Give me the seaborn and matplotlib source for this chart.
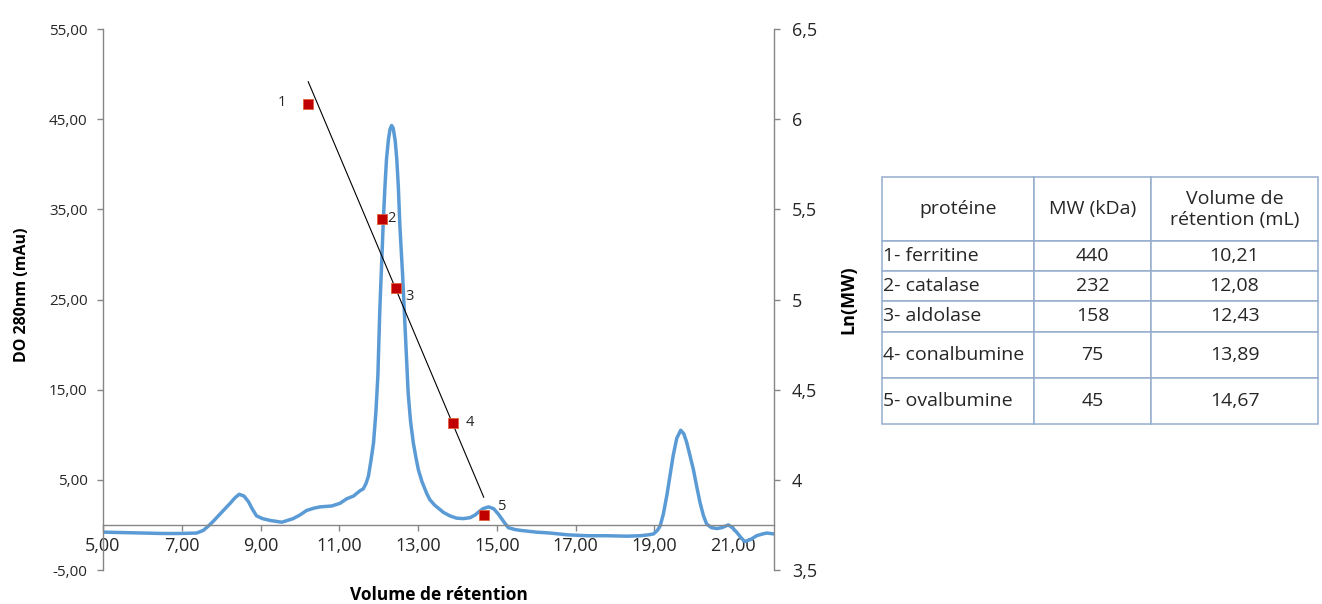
import numpy as np
import pandas as pd
import matplotlib
matplotlib.use("Agg")
import matplotlib.pyplot as plt
import seaborn as sns

# ---------------- data ----------------
volume = [5.0, 5.5, 6.0, 6.5, 6.96, 7.38, 7.55, 7.67, 7.8, 7.97, 8.1, 8.23, 8.35, 8.46,
          8.58, 8.69, 8.8, 8.9, 9.05, 9.24, 9.54, 9.83, 10.0, 10.17, 10.35, 10.51, 10.81,
          11.02, 11.19, 11.36, 11.53, 11.61, 11.68, 11.74, 11.8, 11.87, 11.93, 11.98, 12.03,
          12.08, 12.12, 12.16, 12.2, 12.25, 12.29, 12.33, 12.37, 12.42, 12.46, 12.5, 12.54,
          12.61, 12.67, 12.75, 12.81, 12.88, 12.95, 13.01, 13.1, 13.22, 13.3, 13.42, 13.56,
          13.64, 13.81, 13.98, 14.15, 14.32, 14.45, 14.53, 14.65, 14.79, 14.92, 15.04, 15.17,
          15.29, 15.45, 15.59, 16.0, 16.35, 16.8, 17.3, 17.8, 18.3, 18.64, 18.85, 18.98,
          19.08, 19.15, 19.23, 19.32, 19.4, 19.48, 19.57, 19.67, 19.75, 19.82, 19.9, 19.99,
          20.08, 20.16, 20.25, 20.33, 20.45, 20.59, 20.72, 20.88, 20.98, 21.09, 21.2, 21.3,
          21.45, 21.6, 21.75, 21.86, 22.04]
do280 = [-0.8, -0.85, -0.9, -0.95, -0.95, -0.9, -0.6, -0.15, 0.4, 1.2, 1.8, 2.4, 3.0, 3.4,
         3.2, 2.6, 1.7, 1.0, 0.7, 0.5, 0.3, 0.7, 1.1, 1.6, 1.85, 2.0, 2.1,
         2.4, 2.9, 3.2, 3.8, 4.0, 4.6, 5.4, 7.0, 9.1, 12.5, 16.5, 23.9,
         29.4, 33.9, 37.5, 40.6, 42.8, 43.9, 44.3, 44.0, 42.6, 40.6, 37.5, 33.1,
         27.6, 22.0, 14.6, 11.5, 9.1, 7.4, 6.1, 4.8, 3.5, 2.8, 2.2, 1.7,
         1.4, 1.0, 0.75, 0.7, 0.8, 1.1, 1.4, 1.8, 2.0, 1.8, 1.2, 0.4,
         -0.3, -0.5, -0.6, -0.8, -0.9, -1.1, -1.2, -1.2, -1.25, -1.2, -1.1, -1.0,
         -0.6, -0.1, 1.2, 3.3, 5.5, 7.7, 9.6, 10.5, 10.1, 9.2, 7.8, 6.2,
         4.2, 2.5, 1.0, 0.1, -0.3, -0.4, -0.3, 0.0, -0.3, -0.8, -1.4, -1.85,
         -1.6, -1.2, -1.0, -0.9, -1.0]

proteins = ["1- ferritine", "2- catalase", "3- aldolase", "4- conalbumine", "5- ovalbumine"]
point_labels = ["1", "2", "3", "4", "5"]
mw_kda = [440, 232, 158, 75, 45]
ret_volume = [10.21, 12.08, 12.43, 13.89, 14.67]
ret_volume_text = ["10,21", "12,08", "12,43", "13,89", "14,67"]
table_header = ["protéine", "MW (kDa)", "Volume de\nrétention (mL)"]

x_ticks = [5, 7, 9, 11, 13, 15, 17, 19, 21]
x_ticklabels = ["5,00", "7,00", "9,00", "11,00", "13,00", "15,00", "17,00", "19,00", "21,00"]
y_ticks = [-5, 5, 15, 25, 35, 45, 55]
y_ticklabels = ["-5,00", "5,00", "15,00", "25,00", "35,00", "45,00", "55,00"]
y2_ticks = [3.5, 4, 4.5, 5, 5.5, 6, 6.5]
y2_ticklabels = ["3,5", "4", "4,5", "5", "5,5", "6", "6,5"]

# ---------------- style ----------------
sns.set_theme(style="white")
plt.rcParams["font.family"] = ["Open Sans", "DejaVu Sans"]
GREY = "#868686"
TXT = "#262626"

W, H = 1322, 604
fig = plt.figure(figsize=(W / 100, H / 100), dpi=100)
L, R, T, B = 103, 774, 29, 570
ax = fig.add_axes([L / W, 1 - B / H, (R - L) / W, (B - T) / H])

chrom = pd.DataFrame({"volume": volume, "do280": do280})
sns.lineplot(data=chrom, x="volume", y="do280", ax=ax, color="#5B9BD5", lw=2.5,
             sort=False, estimator=None)

ax.set_xlim(5, 22.04)
ax.set_ylim(-5, 55)
ax.set_xticks(x_ticks)
ax.set_xticklabels(x_ticklabels)
ax.set_yticks(y_ticks)
ax.set_yticklabels(y_ticklabels)
for s in ["top", "right"]:
    ax.spines[s].set_visible(False)
ax.spines["bottom"].set_position(("data", 0))
for s in ["left", "bottom"]:
    ax.spines[s].set_color(GREY)
    ax.spines[s].set_linewidth(1.0)
ax.tick_params(axis="y", direction="out", length=4, width=1, color=GREY, pad=7,
               labelsize=11, labelcolor=TXT, left=True)
ax.tick_params(axis="x", direction="out", length=4, width=1, color=GREY, pad=5,
               labelsize=13, labelcolor=TXT, bottom=True)
ax.set_xlabel("Volume de rétention", fontweight="bold", fontsize=12.5, color="black", va="center")
ax.xaxis.set_label_coords(0.5, -0.046)
ax.set_ylabel("DO 280nm (mAu)", fontweight="bold", fontsize=11.5, color="black", va="center")
ax.yaxis.set_label_coords((22 - L) / (R - L), (B - 295) / (B - T))

# ---------------- secondary axis ----------------
ax2 = ax.twinx()
std = pd.DataFrame({"volume": ret_volume, "lnmw": np.log(mw_kda)})
sns.regplot(data=std, x="volume", y="lnmw", ax=ax2, ci=None, scatter=False,
            line_kws=dict(color="black", lw=0.8))
sns.scatterplot(data=std, x="volume", y="lnmw", ax=ax2, marker="s", s=42,
                color="#C00000", edgecolor="#E0603A", linewidth=0.6, zorder=5)
ax2.set_ylim(3.5, 6.5)
ax2.set_yticks(y2_ticks)
ax2.set_yticklabels(y2_ticklabels)
for s in ["top", "left", "bottom"]:
    ax2.spines[s].set_visible(False)
ax2.spines["right"].set_color(GREY)
ax2.spines["right"].set_linewidth(1.0)
ax2.tick_params(axis="y", direction="out", length=4, width=1, color=GREY, pad=9,
                labelsize=13, labelcolor=TXT, right=True)
ax2.set_ylabel("Ln(MW)", fontweight="bold", fontsize=13, color="black", va="center",
               rotation=90)
ax2.yaxis.set_label_coords((848 - L) / (R - L), 0.5)

offsets = [(-19, 1), (7, 0), (10, -6), (12, 0), (13, 6)]
for lab, xv, yv, off in zip(point_labels, std["volume"], std["lnmw"], offsets):
    ax2.annotate(lab, (xv, yv), xytext=off, textcoords="offset points",
                 ha="center", va="center", fontsize=10.5, color=TXT)

# ---------------- table ----------------
TL, TR, TT, TB = 882, 1318, 177, 424
tax = fig.add_axes([TL / W, 1 - TB / H, (TR - TL) / W, (TB - TT) / H])
tax.axis("off")
cell_text = [[p, str(m), v] for p, m, v in zip(proteins, mw_kda, ret_volume_text)]
tbl = tax.table(cellText=cell_text, colLabels=table_header, bbox=[0, 0, 1, 1],
                cellLoc="center")
tbl.auto_set_font_size(False)
col_w = [152, 117, 167]
row_h = [64.4, 29.3, 30, 30.7, 46.6, 45.7]
for (r, c), cell in tbl.get_celld().items():
    cell.set_width(col_w[c])
    cell.set_height(row_h[r])
    cell.set_edgecolor("#95ADCD")
    cell.set_linewidth(1.1)
    cell.set_facecolor("white")
    t = cell.get_text()
    t.set_fontsize(14)
    t.set_color(TXT)
    if c == 0 and r > 0:
        t.set_ha("left")
        cell.PAD = 0.005
        cell._loc = "left"

fig.savefig("out.png", dpi=100)
